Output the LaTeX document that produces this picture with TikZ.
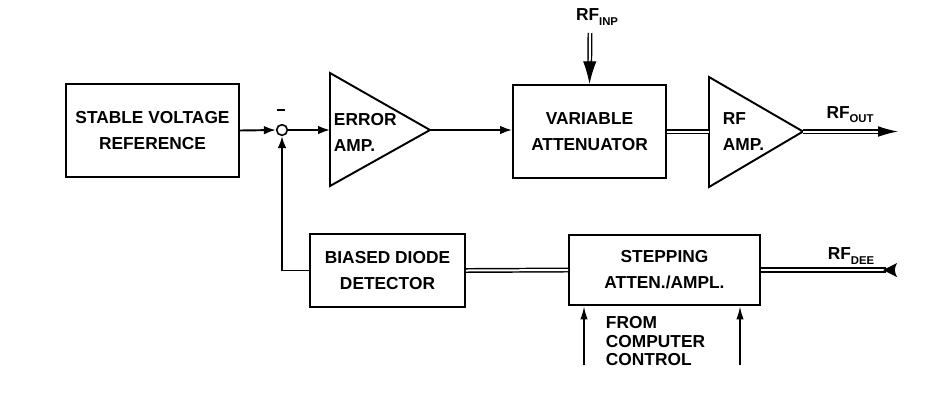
\documentclass[tikz,border=0pt]{standalone}
\usepackage{fontspec}
\setmainfont{Liberation Sans}
\usetikzlibrary{arrows.meta,calc}
\newcommand\rfsub[1]{\raisebox{-0.45ex}{\fontsize{8.5}{8.5}\selectfont #1}}
\begin{document}
\begin{tikzpicture}[x=0.75pt,y=-0.75pt,
  line width=1.45pt, line join=miter,
  every node/.style={font=\fontsize{13}{19.5}\selectfont\bfseries},
  block/.style={draw, rectangle, inner sep=0pt, align=center},
  sumpt/.style={draw, circle, inner sep=0pt, minimum size=8pt, line width=1.2pt},
  sig/.style={-{Latex[length=9pt,width=6.5pt]}},
  ctl/.style={-{Latex[length=10pt,width=5.5pt]}},
  rfline/.style={double, double distance=1.5pt, line width=1.1pt},
  lbl/.style={inner sep=0pt}
]
\useasboundingbox (0,0) rectangle (952,405);

% blocks
\node[block, minimum width=129.75pt, minimum height=69.75pt] (svr) at (152.5,130.5) {STABLE VOLTAGE\\REFERENCE};
\node[sumpt] (sum) at (282,130) {};
\node[lbl] (minus) at (281,110) {\rule{5.5pt}{1.2pt}};

\draw (330,73) -- (430,130) -- (330,186) -- cycle;
\coordinate (eain) at (330,130);
\coordinate (eaout) at (430,130);
\node[lbl, align=left, anchor=west] (eatxt) at (333,132) {ERROR\\AMP.};

\node[block, minimum width=114.75pt, minimum height=69.75pt] (va) at (589.5,131.5) {VARIABLE\\ATTENUATOR};

\draw (709,77) -- (803,131.5) -- (709,187) -- cycle;
\coordinate (rfain) at (709,131.5);
\coordinate (rfaout) at (803,131.5);
\node[lbl, align=left, anchor=west] (rftxt) at (722,132) {RF\\AMP.};

\node[block, minimum width=116.25pt, minimum height=54.75pt] (bdd) at (387.5,270.5) {BIASED DIODE\\DETECTOR};
\node[block, minimum width=143.25pt, minimum height=52.5pt] (sa) at (664.5,270) {STEPPING\\ATTEN./AMPL.};

% free ends
\coordinate (rfinp) at (590,33);
\coordinate (rfout) at (898,131.5);
\coordinate (rfdee) at (897,270);
\coordinate (ctla) at (584,365);
\coordinate (ctlb) at (740,365);

% labels
\node[lbl] (rfinplbl) at (597,17) {RF\rfsub{INP}};
\node[lbl] (rfoutlbl) at (850,115) {RF\rfsub{OUT}};
\node[lbl] (rfdeelbl) at (851,256) {RF\rfsub{DEE}};
\node[lbl, align=left, anchor=north west, font=\fontsize{13}{14.2}\selectfont\bfseries] (ctltxt) at (605,315) {FROM\\COMPUTER\\CONTROL};

% signal connectors
\draw[sig] (svr.east) -- (sum.west);
\draw[sig] (sum.east) -- (eain);
\draw[sig] (eaout) -- (va.west |- eaout);
\draw[sig] (bdd.west) -| (sum.south);
\draw[ctl] (ctla) -- (ctla |- sa.south);
\draw[ctl] (ctlb) -- (ctlb |- sa.south);

% RF connectors (double lines)
\draw[rfline] (va.east) -- (rfain);
\draw[rfline] (bdd.east) -- (sa.west);
\draw[rfline, shorten >=12pt] (rfinp) -- (va.north);
\draw[line width=0.8pt, -{Latex[length=17pt,width=10pt]}] ($(va.north)!17pt!(rfinp)$) -- (va.north);
\draw[rfline, line width=1.3pt, shorten >=10pt] (rfaout) -- (rfout);
\draw[line width=0.8pt, -{Latex[length=15pt,width=8pt]}] ($(rfout)!15pt!(rfaout)$) -- (rfout);
\draw[rfline, line width=1.3pt, shorten >=8pt] (sa.east) -- (rfdee);
\fill ($(rfdee)+(0,-7)$) -- ($(rfdee)+(-14,0)$) -- ($(rfdee)+(0,7)$) .. controls ($(rfdee)+(-3,0)$) .. cycle;
\end{tikzpicture}
\end{document}
